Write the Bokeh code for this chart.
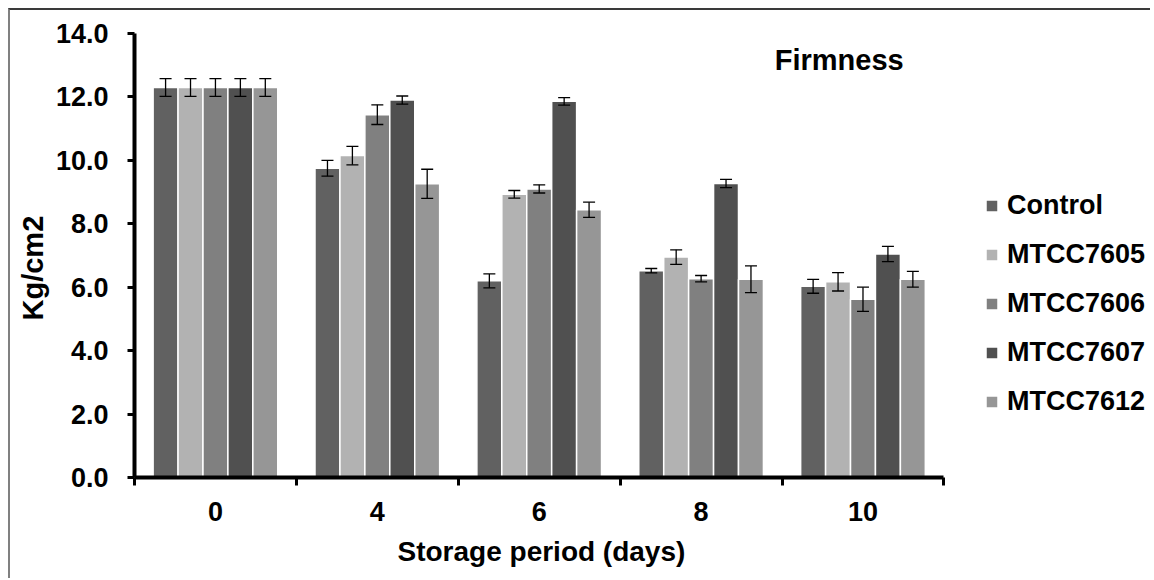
from bokeh.plotting import figure
from bokeh.models import (ColumnDataSource, Range1d, FixedTicker, Whisker, TeeHead,
                          Legend, LegendItem, Label, PrintfTickFormatter, Title)
from bokeh.transform import dodge
from bokeh.embed import file_html
from bokeh.resources import INLINE

# ---------------- data ----------------
days = ["0", "4", "6", "8", "10"]
series = ["Control", "MTCC7605", "MTCC7606", "MTCC7607", "MTCC7612"]

control = [12.30, 9.75, 6.20, 6.52, 6.03]
mtcc7605 = [12.30, 10.15, 8.93, 6.95, 6.17]
mtcc7606 = [12.30, 11.44, 9.10, 6.27, 5.62]
mtcc7607 = [12.30, 11.90, 11.86, 9.27, 7.05]
mtcc7612 = [12.30, 9.26, 8.44, 6.25, 6.25]

err_control = [0.28, 0.25, 0.22, 0.07, 0.22]
err_7605 = [0.28, 0.29, 0.12, 0.23, 0.29]
err_7606 = [0.28, 0.31, 0.13, 0.10, 0.38]
err_7607 = [0.28, 0.13, 0.12, 0.13, 0.24]
err_7612 = [0.28, 0.46, 0.24, 0.42, 0.25]

values = [control, mtcc7605, mtcc7606, mtcc7607, mtcc7612]
errors = [err_control, err_7605, err_7606, err_7607, err_7612]
colors = ["#616161", "#b2b2b2", "#808080", "#505050", "#969696"]

y_ticks = [0, 2, 4, 6, 8, 10, 12, 14]

FONT = "Liberation Sans"

# ---------------- figure ----------------
# the frame runs to the right edge so that the legend (drawn inside it) is not clipped;
# the x axis itself is bounded to the five categories
n = len(days)
p = figure(width=1142, height=570, output_backend="svg", toolbar_location=None,
           x_range=Range1d(0, 6.276), y_range=Range1d(0, 14),
           min_border_left=122, min_border_right=2, min_border_top=23,
           min_border_bottom=103)
p.styles = {"border-top": "2px solid #3a3a3a", "border-left": "2px solid #808080",
            "margin-top": "8px", "margin-left": "8px"}
p.outline_line_color = None
p.xgrid.visible = False
p.ygrid.visible = False
p.background_fill_color = "white"
p.border_fill_color = "white"

centers = [i + 0.5 for i in range(n)]
src_data = {"x": centers}
for s, v, e in zip(series, values, errors):
    src_data[s] = v
    src_data[s + "_up"] = [a + b for a, b in zip(v, e)]
    src_data[s + "_lo"] = [a - b for a, b in zip(v, e)]
src = ColumnDataSource(src_data)

pitch = 0.154
items = []
for k, (s, c) in enumerate(zip(series, colors)):
    off = (k - 2) * pitch
    r = p.vbar(x=dodge("x", off, range=p.x_range), top=s, width=pitch, source=src,
               fill_color=c, line_color="white", line_width=1.5)
    w = Whisker(base=dodge("x", off, range=p.x_range), upper=s + "_up", lower=s + "_lo",
                source=src, line_color="black", line_width=1.3, level="overlay",
                upper_head=TeeHead(size=12, line_width=1.3, line_color="black"),
                lower_head=TeeHead(size=12, line_width=1.3, line_color="black"))
    p.add_layout(w)
    items.append(LegendItem(label=s, renderers=[r]))

# ---------------- axes ----------------
xa = p.xaxis[0]
xa.bounds = (0, n)
xa.ticker = FixedTicker(ticks=centers, minor_ticks=list(range(n + 1)))
xa.major_label_overrides = {c: d for c, d in zip(centers, days)}
xa.major_tick_out = 0
xa.major_tick_in = 0
xa.minor_tick_out = 8
xa.minor_tick_in = 0
xa.minor_tick_line_width = 3
xa.minor_tick_line_color = "black"
xa.axis_line_width = 4
xa.axis_line_color = "black"
xa.major_label_standoff = 16

ya = p.yaxis[0]
ya.ticker = FixedTicker(ticks=y_ticks, minor_ticks=[])
ya.formatter = PrintfTickFormatter(format="%.1f")
ya.major_tick_out = 7
ya.major_tick_in = 0
ya.major_tick_line_width = 3
ya.major_tick_line_color = "black"
ya.minor_tick_line_color = None
ya.axis_line_width = 4
ya.axis_line_color = "black"
ya.major_label_standoff = 19

for ax in (xa, ya):
    ax.major_label_text_font = FONT
    ax.major_label_text_font_style = "bold"
    ax.major_label_text_font_size = "27px"
    ax.major_label_text_color = "black"

# axis titles as panel titles so they can sit where the reference puts them
p.add_layout(Title(text="Storage period (days)", align="left", offset=263, standoff=21,
                   text_font=FONT, text_font_style="bold", text_font_size="28px",
                   text_color="black"), "below")
p.add_layout(Title(text="Kg/cm2", align="left", offset=157, standoff=8,
                   text_font=FONT, text_font_style="bold", text_font_size="29px",
                   text_color="black"), "left")

# ---------------- chart title label ----------------
p.add_layout(Label(x=3.955, y=13.15, text="Firmness", text_font=FONT,
                   text_font_style="bold", text_font_size="29px",
                   text_color="black", text_baseline="alphabetic"))

# ---------------- legend ----------------
legend = Legend(items=items, location=(850, 60), border_line_color=None,
                background_fill_alpha=0, padding=0, margin=0, spacing=18,
                label_height=30, glyph_height=15, glyph_width=15,
                label_standoff=8, label_text_font=FONT,
                label_text_font_style="bold", label_text_font_size="27px",
                label_text_color="black")
p.add_layout(legend)

open("out.html", "w").write(file_html(p, INLINE))
